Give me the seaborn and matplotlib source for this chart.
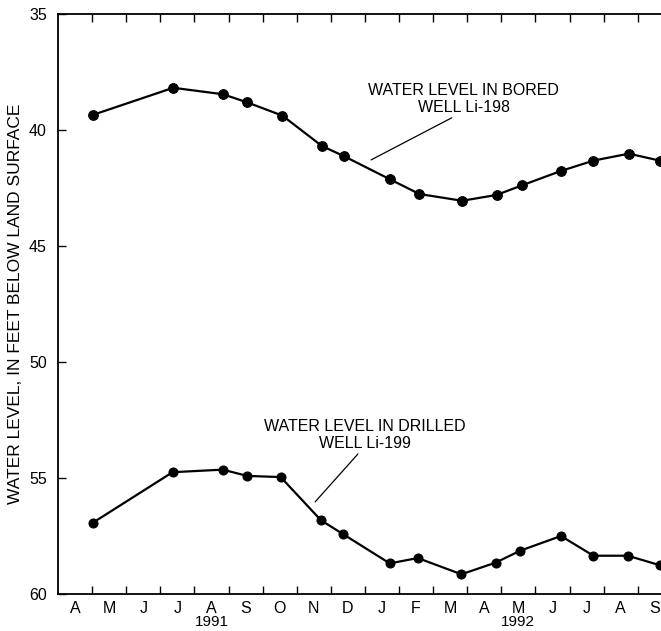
import matplotlib
matplotlib.use("Agg")
import matplotlib.pyplot as plt
import seaborn as sns
import pandas as pd

# Months since 1 April 1991 (fractional positions)
bored_months = [1.02, 3.38, 4.84, 5.55, 6.58, 7.74, 8.39, 9.74, 10.6, 11.85,
                12.86, 13.6, 14.74, 15.7, 16.74, 17.65]
bored_levels = [39.35, 38.18, 38.46, 38.81, 39.38, 40.69, 41.13, 42.13, 42.76, 43.05,
                42.8, 42.39, 41.77, 41.32, 41.02, 41.32]

drilled_months = [1.02, 3.36, 4.83, 5.55, 6.53, 7.71, 8.37, 9.73, 10.55, 11.83,
                  12.83, 13.56, 14.75, 15.7, 16.71, 17.65]
drilled_levels = [56.93, 54.75, 54.64, 54.91, 54.96, 56.82, 57.43, 58.68, 58.45, 59.15,
                  58.65, 58.13, 57.5, 58.35, 58.35, 58.76]

month_labels = ["A", "M", "J", "J", "A", "S", "O", "N", "D",
                "J", "F", "M", "A", "M", "J", "J", "A", "S"]
year_labels = ["1991", "1992"]
year_positions = [4.5, 13.5]
y_ticks = [35, 40, 45, 50, 55, 60]

bored_label = "WATER LEVEL IN BORED\nWELL Li-198"
drilled_label = "WATER LEVEL IN DRILLED\nWELL Li-199"
y_label = "WATER LEVEL, IN FEET BELOW LAND SURFACE"

sns.set_style("ticks", {"text.color": "black", "axes.labelcolor": "black",
                        "xtick.color": "black", "ytick.color": "black",
                        "axes.edgecolor": "black"})
plt.rcParams["font.family"] = ["Liberation Sans", "DejaVu Sans"]

fig = plt.figure(figsize=(6.61, 6.31), dpi=100)
W, H = 661, 631
left, right, top, bottom = 58, 661, 14, 594
ax = fig.add_axes([left / W, 1 - bottom / H, (right - left) / W, (bottom - top) / H])

df_b = pd.DataFrame({"month": bored_months, "level": bored_levels})
df_d = pd.DataFrame({"month": drilled_months, "level": drilled_levels})

for df, ms in ((df_b, 7), (df_d, 6.5)):
    sns.lineplot(data=df, x="month", y="level", ax=ax, color="black",
                 linewidth=1.6, marker="o", markersize=ms,
                 markeredgecolor="black", markerfacecolor="black",
                 clip_on=False, zorder=3)

month_w = 34.1
ax.set_xlim(0, (right - left) / month_w)
ax.set_ylim(60, 35)

ax.set_xticks(range(1, 18))
ax.set_xticklabels([])
ax.set_xticks([i + 0.5 for i in range(len(month_labels))], minor=True)
ax.set_xticklabels(month_labels, minor=True, fontsize=11.5)
ax.tick_params(axis="x", which="major", direction="in", length=6, width=1,
               top=True, bottom=True, color="black")
ax.tick_params(axis="x", which="minor", length=0, pad=5)

ax.set_yticks(y_ticks)
ax.set_yticklabels([str(v) for v in y_ticks], fontsize=11.5)
ax.tick_params(axis="y", direction="in", length=6, width=1, pad=8, color="black")

for s in ("left", "top", "bottom"):
    ax.spines[s].set_linewidth(1.3)
    ax.spines[s].set_color("black")
ax.spines["right"].set_visible(False)

ax.set_xlabel("")
ax.set_ylabel(y_label, fontsize=12.5)
ax.yaxis.set_label_coords((23 - left) / (right - left), 0.5)

# Year labels
for pos, lab in zip(year_positions, year_labels):
    ax.text(pos, -(622 - bottom) / (bottom - top), lab,
            transform=ax.get_xaxis_transform(),
            ha="center", va="center", fontsize=11)

# Annotations
ax.annotate(bored_label, xy=(9.18, 41.29), xytext=(11.9, 38.66),
            ha="center", va="center", fontsize=11.5, linespacing=1.1,
            arrowprops=dict(arrowstyle="-", color="black", lw=0.9,
                            shrinkA=0, shrinkB=0,
                            relpos=(0.47, 0.0)))
ax.annotate(drilled_label, xy=(7.54, 56.03), xytext=(9.0, 53.15),
            ha="center", va="center", fontsize=11.5, linespacing=1.1,
            arrowprops=dict(arrowstyle="-", color="black", lw=0.9,
                            shrinkA=0, shrinkB=0,
                            relpos=(0.48, 0.0)))

fig.savefig("out.png", dpi=100)
